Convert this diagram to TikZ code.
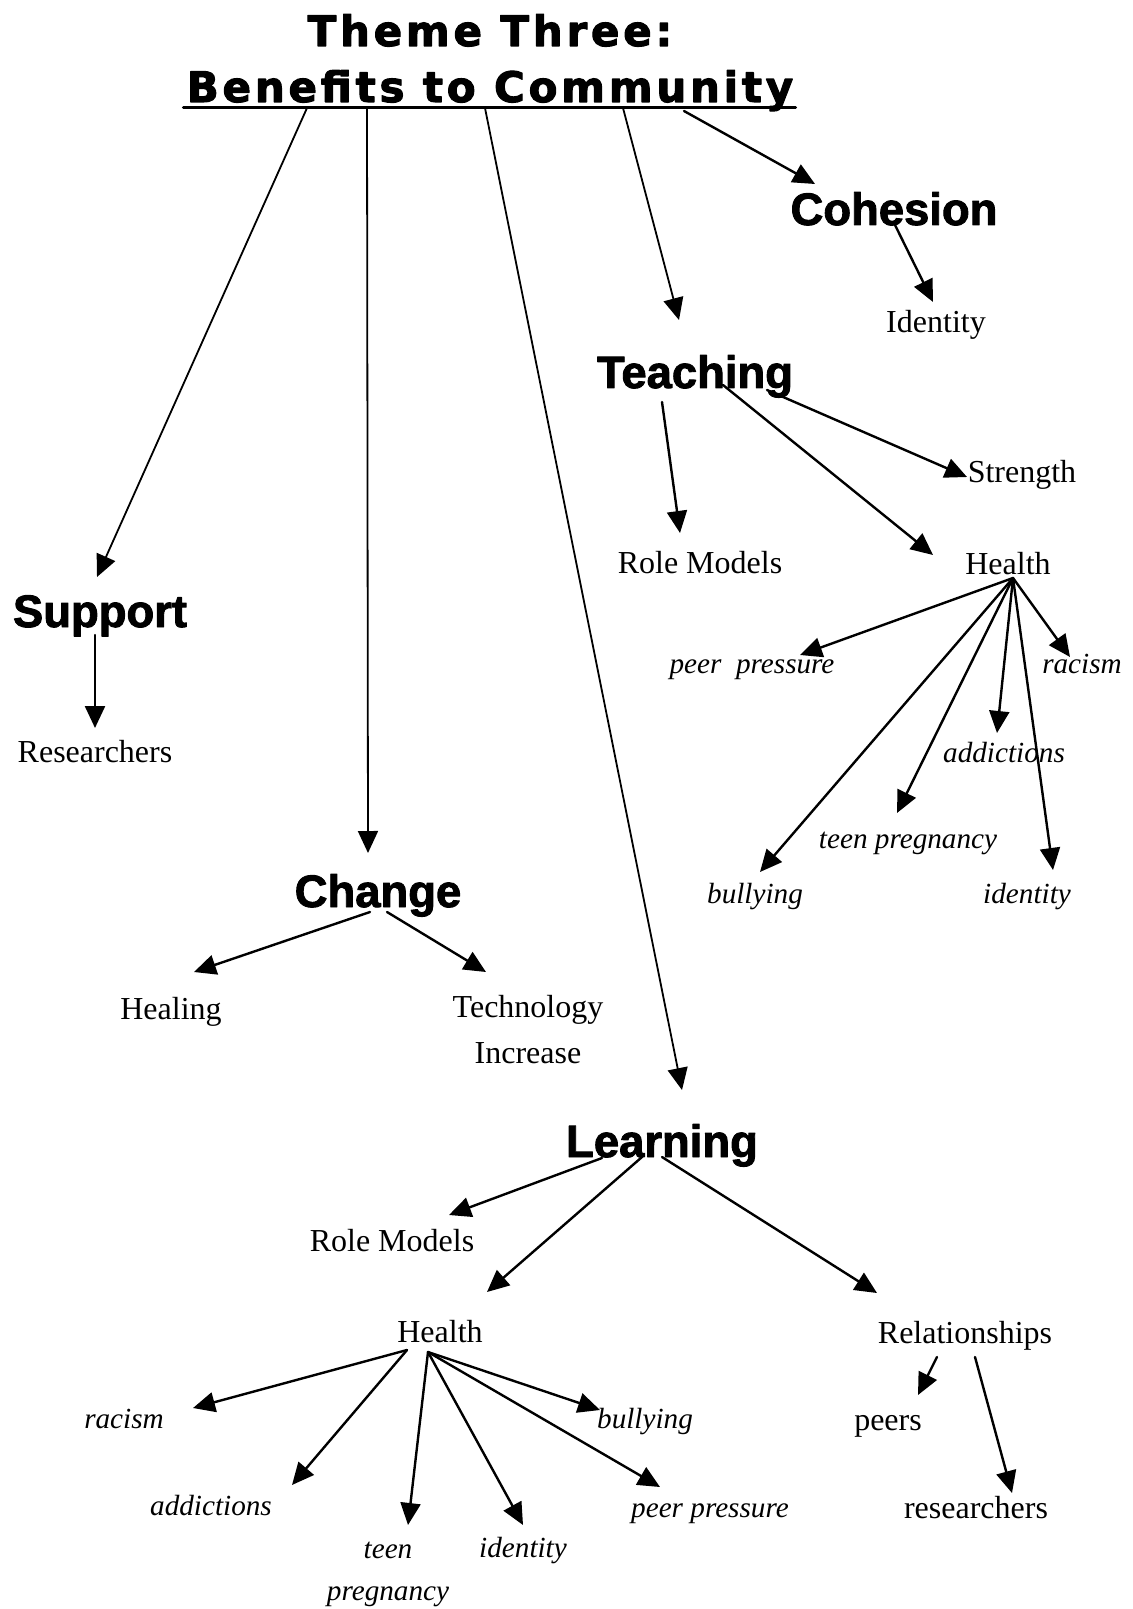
\documentclass[tikz,border=0pt]{standalone}
\usepackage{fontspec}
\setmainfont{Liberation Serif}
\newfontfamily\headfont[BoldFeatures={FakeBold=2}]{Liberation Sans}
\newfontfamily\titlefont[LetterSpace=9,BoldFeatures={FakeBold=2.5}]{DejaVu Sans}
\usetikzlibrary{arrows.meta,calc}

\begin{document}
\begin{tikzpicture}[line cap=round,line join=round,>={Triangle[length=11pt,width=10pt]},x=0.5pt,y=-0.5pt,
  ttl/.style={inner sep=0pt,anchor=base,font=\titlefont\bfseries\fontsize{21}{25}\selectfont},
  head/.style={inner sep=0pt,anchor=base,font=\headfont\bfseries\fontsize{22.7}{27}\selectfont},
  lbl/.style={inner sep=0pt,anchor=base,font=\fontsize{16}{23}\selectfont},
  itl/.style={inner sep=0pt,anchor=base,font=\itshape\fontsize{14.6}{21}\selectfont},
  arr/.style={->,line width=1.2pt},
  stem/.style={->,line width=0.9pt}]
            \useasboundingbox (0,0) rectangle (1132,1609);
            % title
            \node[ttl] (ttl1) at (490,46) {Theme Three:};
            \node[ttl] (ttl2) at (490,102) {Benefits to Community};
            \draw [line width=1.5pt] ($(ttl2.base west)+(-3,6)$)-- ($(ttl2.base east)+(2,6)$);
            % main themes
            \node[head] (sup) at (100,627) {Support};
            \node[head] (chg) at (378,907) {Change};
            \node[head] (lrn) at (662,1157) {Learning};
            \node[head] (tch) at (695,388) {Teaching};
            \node[head] (coh) at (894,225) {Cohesion};
            % sub topics
            \node[lbl] (resA) at (95,762) {Researchers};
            \node[lbl] (heal) at (171,1019) {Healing};
            \node[lbl,anchor=center,align=center] (tech) at (528,1030) {Technology\\Increase};
            \node[lbl] (idC) at (936,333) {Identity};
            \node[lbl] (rmT) at (700,573) {Role Models};
            \node[lbl] (str) at (1022,482) {Strength};
            \node[lbl] (hT) at (1008,574) {Health};
            \node[lbl] (rmL) at (392,1251) {Role Models};
            \node[lbl] (hL) at (440,1342) {Health};
            \node[lbl] (rel) at (965,1343) {Relationships};
            \node[lbl] (prs) at (888,1430) {peers};
            \node[lbl] (resL) at (976,1518) {researchers};
            % health topics (teaching)
            \node[itl] (ppT) at (752,673) {peer~ pressure};
            \node[itl] (racT) at (1082,673) {racism};
            \node[itl] (addT) at (1004,762) {addictions};
            \node[itl] (tpT) at (908,848) {teen pregnancy};
            \node[itl] (bulT) at (755,903) {bullying};
            \node[itl] (idT) at (1027,903) {identity};
            % health topics (learning)
            \node[itl] (racL) at (124,1428) {racism};
            \node[itl] (addL) at (211,1515) {addictions};
            \node[itl,anchor=center,align=center] (tpL) at (388,1574) {teen\\pregnancy};
            \node[itl] (idL) at (523,1557) {identity};
            \node[itl] (ppL) at (710,1517) {peer pressure};
            \node[itl] (bulL) at (645,1428) {bullying};
            % stems from the title
            \draw [stem] ($(ttl2.base)+(-183,6)$)-- ($(sup.base)+(-3,-50)$);
            \draw [stem] ($(ttl2.base)+(-123,6)$)-- ($(chg.base)+(-10,-54)$);
            \draw [stem] ($(ttl2.base)+(-5,6)$)-- ($(lrn.base)+(20,-67)$);
            \draw [stem] ($(ttl2.base)+(133,6)$)-- ($(tch.base)+(-16,-68)$);
            \draw [arr] ($(ttl2.base)+(194,9)$)-- ($(coh.base)+(-79,-41)$);
            % cohesion, support, change
            \draw [arr] ($(coh.base)+(1,0)$)-- ($(idC.base)+(-3,-31)$);
            \draw [arr] ($(sup.base)+(-5,8)$)-- ($(resA.base)+(0,-34)$);
            \draw [arr] ($(chg.base)+(-8,5)$)-- ($(heal.base)+(23,-47)$);
            \draw [arr] ($(chg.base)+(9,5)$)-- ($(tech.center)+(-42,-58)$);
            % teaching
            \draw [arr] ($(tch.base)+(-33,14)$)-- ($(rmT.base)+(-20,-40)$);
            \draw [arr] ($(tch.base)+(28,-3)$)-- ($(hT.base)+(-75,-19)$);
            \draw [arr] ($(tch.base)+(72,2)$)-- ($(str.base)+(-55,-5)$);
            \coordinate (hTf) at ($(hT.base)+(5,4)$);
            \draw [arr] (hTf)-- ($(ppT.base)+(48,-18)$);
            \draw [arr] (hTf)-- ($(racT.base)+(-12,-16)$);
            \draw [arr] (hTf)-- ($(addT.base)+(-7,-29)$);
            \draw [arr] (hTf)-- ($(tpT.base)+(-11,-35)$);
            \draw [arr] (hTf)-- ($(bulT.base)+(5,-31)$);
            \draw [arr] (hTf)-- ($(idT.base)+(26,-33)$);
            % learning
            \draw [arr] ($(lrn.base)+(-60,1)$)-- ($(rmL.base)+(57,-36)$);
            \draw [arr] ($(lrn.base)+(-20,0)$)-- ($(hL.base)+(47,-50)$);
            \draw [arr] ($(lrn.base)+(0,0)$)-- ($(rel.base)+(-88,-50)$);
            \coordinate (hLa) at ($(hL.base)+(-33,8)$);
            \coordinate (hLb) at ($(hL.base)+(-12,10)$);
            \draw [arr] (hLa)-- ($(racL.base)+(69,-20)$);
            \draw [arr] (hLa)-- ($(addL.base)+(81,-30)$);
            \draw [arr] (hLb)-- ($(tpL.center)+(20,-49)$);
            \draw [arr] (hLb)-- ($(idL.base)+(0,-32)$);
            \draw [arr] (hLb)-- ($(ppL.base)+(-50,-30)$);
            \draw [arr] (hLb)-- ($(bulL.base)+(-45,-18)$);
            \draw [arr] ($(rel.base)+(-28,14)$)-- ($(prs.base)+(30,-35)$);
            \draw [arr] ($(rel.base)+(10,14)$)-- ($(resL.base)+(36,-25)$);
\end{tikzpicture}
\end{document}
